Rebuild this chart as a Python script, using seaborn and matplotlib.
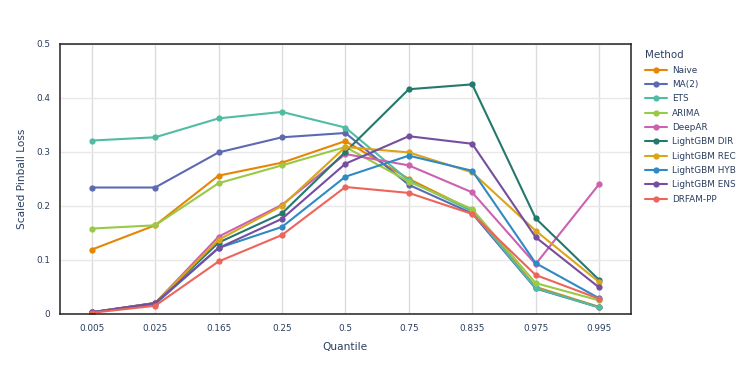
import pandas as pd
import matplotlib.pyplot as plt
import seaborn as sns

# ============================
# 1. Data
# ============================
quantiles = ["0.005", "0.025", "0.165", "0.25", "0.5", "0.75", "0.835", "0.975", "0.995"]

methods = ["Naive", "MA(2)", "ETS", "ARIMA", "DeepAR", "LightGBM DIR",
           "LightGBM REC", "LightGBM HYB", "LightGBM ENS", "DRFAM-PP"]

naive = [0.119, 0.164, 0.256, 0.280, 0.320, 0.250, 0.192, 0.050, 0.013]
ma2 = [0.234, 0.234, 0.299, 0.327, 0.335, 0.239, 0.186, 0.047, 0.012]
ets = [0.321, 0.327, 0.362, 0.374, 0.345, 0.247, 0.190, 0.048, 0.012]
arima = [0.158, 0.164, 0.242, 0.275, 0.309, 0.245, 0.194, 0.057, 0.025]
deepar = [0.003, 0.020, 0.143, 0.202, 0.296, 0.275, 0.225, 0.092, 0.240]
lgbm_dir = [0.003, 0.020, 0.132, 0.186, 0.300, 0.416, 0.425, 0.177, 0.063]
lgbm_rec = [0.003, 0.020, 0.137, 0.200, 0.309, 0.299, 0.262, 0.154, 0.059]
lgbm_hyb = [0.003, 0.018, 0.122, 0.161, 0.254, 0.293, 0.265, 0.094, 0.029]
lgbm_ens = [0.003, 0.020, 0.122, 0.176, 0.278, 0.329, 0.315, 0.142, 0.049]
drfam_pp = [0.002, 0.015, 0.097, 0.146, 0.235, 0.224, 0.185, 0.072, 0.028]

series = [naive, ma2, ets, arima, deepar, lgbm_dir, lgbm_rec, lgbm_hyb, lgbm_ens, drfam_pp]

colors = ["#E58606", "#5D69B1", "#52BCA3", "#99C945", "#CC61B0",
          "#24796C", "#DAA51B", "#2F8AC4", "#764E9F", "#ED645A"]

rows = []
for m, vals in zip(methods, series):
    for q, v in zip(quantiles, vals):
        rows.append({"Method": m, "Quantile": q, "Loss": v})
df = pd.DataFrame(rows)

# ============================
# 2. Plot
# ============================
sns.set_style("white")
plt.rcParams["font.family"] = ["DejaVu Sans"]
text_col = "#2a3f5f"

fig = plt.figure(figsize=(7.5, 3.75), dpi=100)
ax = fig.add_axes([0.08, 0.163, 0.761, 0.72])

sns.lineplot(
    data=df, x="Quantile", y="Loss", hue="Method",
    hue_order=methods, palette=colors, sort=False,
    marker="o", markersize=4.5, markeredgewidth=0, linewidth=1.5, ax=ax
)

ax.set_xlim(-0.5, len(quantiles) - 0.5)
ax.set_ylim(0, 0.5)
ax.set_yticks([0, 0.1, 0.2, 0.3, 0.4, 0.5])
ax.set_yticklabels(["0", "0.1", "0.2", "0.3", "0.4", "0.5"])

ax.grid(True, axis="y", color="#e8e8e8", linewidth=1)
ax.grid(True, axis="x", color="#dcdcdc", linewidth=1)
ax.set_axisbelow(True)
for s in ax.spines.values():
    s.set_color("#222222")
    s.set_linewidth(1.1)

ax.tick_params(axis="both", direction="out", length=4, width=1, color="#cccccc",
               labelsize=6.4, labelcolor=text_col, pad=3)
ax.set_xlabel("Quantile", fontsize=7.6, color=text_col, labelpad=7)
ax.set_ylabel("Scaled Pinball Loss", fontsize=7.6, color=text_col, labelpad=7)

leg = ax.legend(
    title="Method", loc="upper left", bbox_to_anchor=(0.855, 0.875),
    bbox_transform=fig.transFigure, frameon=False, fontsize=6.4,
    title_fontsize=7.4, handlelength=2.5, handletextpad=0.55,
    labelspacing=0.6, borderaxespad=0
)
leg._legend_box.align = "left"
for t in leg.get_texts():
    t.set_color(text_col)
leg.get_title().set_color(text_col)

plt.savefig("out.png", dpi=100)
